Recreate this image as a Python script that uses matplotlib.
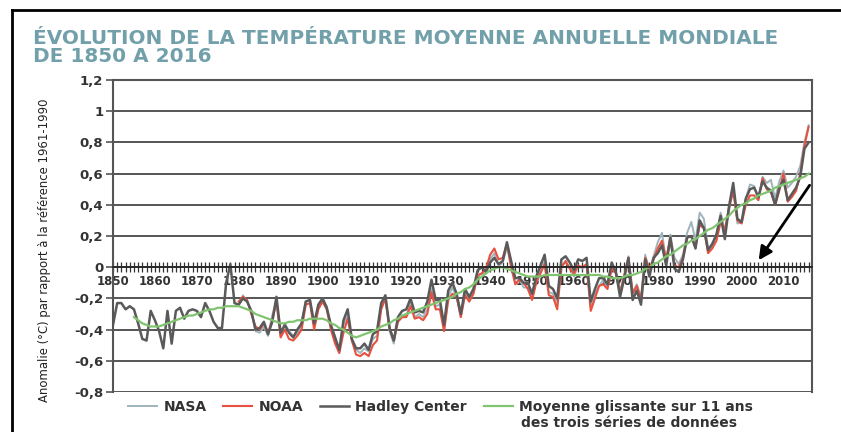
import numpy as np
import matplotlib.pyplot as plt
from matplotlib.lines import Line2D
from matplotlib.ticker import FuncFormatter

# Anomalies annuelles (°C, référence 1961-1990)
annees_hadley = np.arange(1850, 2017)
hadley = [
    -0.37, -0.23, -0.23, -0.27, -0.25, -0.27, -0.36, -0.46, -0.47, -0.28,
    -0.34, -0.41, -0.52, -0.28, -0.49, -0.28, -0.26, -0.33, -0.28, -0.27,
    -0.28, -0.32, -0.23, -0.28, -0.35, -0.39, -0.39, -0.10, 0.02, -0.23,
    -0.24, -0.20, -0.22, -0.28, -0.40, -0.39, -0.35, -0.43, -0.35, -0.19,
    -0.42, -0.37, -0.42, -0.45, -0.40, -0.36, -0.22, -0.21, -0.36, -0.24,
    -0.20, -0.26, -0.37, -0.45, -0.53, -0.34, -0.27, -0.46, -0.52, -0.52,
    -0.49, -0.53, -0.43, -0.41, -0.23, -0.18, -0.39, -0.47, -0.32, -0.28,
    -0.27, -0.20, -0.29, -0.28, -0.29, -0.22, -0.08, -0.21, -0.21, -0.37,
    -0.15, -0.10, -0.17, -0.30, -0.14, -0.19, -0.14, -0.02, 0.00, -0.03,
    0.03, 0.06, 0.02, 0.04, 0.16, 0.04, -0.07, -0.07, -0.10, -0.10,
    -0.17, -0.06, 0.01, 0.08, -0.12, -0.14, -0.20, 0.05, 0.07, 0.03,
    -0.02, 0.05, 0.04, 0.06, -0.22, -0.14, -0.07, -0.07, -0.11, 0.03,
    -0.03, -0.19, -0.07, 0.06, -0.21, -0.15, -0.24, 0.05, -0.06, 0.06,
    0.09, 0.14, 0.01, 0.19, -0.01, -0.03, 0.05, 0.19, 0.20, 0.12,
    0.30, 0.25, 0.11, 0.15, 0.21, 0.33, 0.18, 0.39, 0.54, 0.31,
    0.29, 0.44, 0.50, 0.51, 0.45, 0.55, 0.51, 0.49, 0.40, 0.51,
    0.56, 0.43, 0.47, 0.51, 0.58, 0.76, 0.80,
]

annees_nasa_noaa = np.arange(1880, 2017)
nasa = [
    -0.24, -0.18, -0.22, -0.28, -0.41, -0.42, -0.38, -0.44, -0.31, -0.21,
    -0.44, -0.36, -0.41, -0.44, -0.43, -0.36, -0.22, -0.21, -0.37, -0.26,
    -0.20, -0.25, -0.38, -0.47, -0.55, -0.37, -0.31, -0.47, -0.53, -0.55,
    -0.52, -0.54, -0.46, -0.44, -0.25, -0.21, -0.41, -0.49, -0.34, -0.31,
    -0.31, -0.23, -0.32, -0.30, -0.32, -0.27, -0.14, -0.25, -0.24, -0.40,
    -0.19, -0.13, -0.19, -0.32, -0.16, -0.22, -0.17, -0.06, -0.04, -0.04,
    0.05, 0.09, 0.01, 0.03, 0.13, 0.02, -0.10, -0.08, -0.13, -0.13,
    -0.20, -0.09, -0.02, 0.04, -0.16, -0.17, -0.23, 0.01, 0.03, 0.00,
    -0.06, 0.01, -0.01, 0.01, -0.25, -0.17, -0.12, -0.08, -0.13, 0.00,
    -0.03, -0.15, -0.06, 0.07, -0.16, -0.11, -0.19, 0.08, -0.02, 0.07,
    0.16, 0.22, 0.04, 0.21, 0.06, 0.02, 0.08, 0.22, 0.29, 0.17,
    0.35, 0.31, 0.12, 0.13, 0.21, 0.35, 0.23, 0.36, 0.51, 0.28,
    0.29, 0.44, 0.53, 0.52, 0.43, 0.58, 0.54, 0.56, 0.44, 0.55,
    0.62, 0.51, 0.54, 0.58, 0.65, 0.80, 0.91,
]
noaa = [
    -0.22, -0.19, -0.21, -0.30, -0.38, -0.40, -0.36, -0.42, -0.34, -0.22,
    -0.45, -0.40, -0.46, -0.47, -0.44, -0.40, -0.24, -0.23, -0.40, -0.27,
    -0.22, -0.27, -0.40, -0.49, -0.55, -0.42, -0.33, -0.47, -0.56, -0.57,
    -0.55, -0.57, -0.50, -0.47, -0.27, -0.20, -0.39, -0.47, -0.35, -0.32,
    -0.32, -0.25, -0.33, -0.32, -0.34, -0.30, -0.16, -0.27, -0.27, -0.41,
    -0.21, -0.17, -0.19, -0.32, -0.18, -0.22, -0.17, -0.05, -0.04, -0.01,
    0.08, 0.12, 0.05, 0.06, 0.15, 0.00, -0.11, -0.08, -0.10, -0.14,
    -0.21, -0.10, -0.04, 0.02, -0.18, -0.19, -0.27, 0.00, 0.04, -0.01,
    -0.04, 0.01, 0.00, 0.02, -0.28, -0.20, -0.12, -0.11, -0.14, -0.01,
    -0.04, -0.17, -0.05, 0.06, -0.17, -0.12, -0.21, 0.06, -0.01, 0.05,
    0.12, 0.17, 0.05, 0.19, 0.01, 0.00, 0.06, 0.19, 0.20, 0.13,
    0.27, 0.25, 0.09, 0.12, 0.17, 0.29, 0.24, 0.38, 0.49, 0.30,
    0.28, 0.40, 0.46, 0.46, 0.43, 0.57, 0.50, 0.48, 0.40, 0.49,
    0.60, 0.42, 0.45, 0.49, 0.60, 0.78, 0.90,
]

# moyenne glissante sur 11 ans des trois séries
annees_moyenne = np.arange(1855, 2017)
moyenne = [
    -0.32, -0.34, -0.36, -0.37, -0.38, -0.38, -0.38, -0.37, -0.36, -0.35,
    -0.34, -0.33, -0.32, -0.31, -0.31, -0.30, -0.29, -0.28, -0.27, -0.27,
    -0.26, -0.26, -0.25, -0.25, -0.25, -0.25, -0.26, -0.27, -0.28, -0.30,
    -0.31, -0.32, -0.33, -0.34, -0.35, -0.36, -0.36, -0.35, -0.35, -0.34,
    -0.34, -0.34, -0.33, -0.33, -0.33, -0.33, -0.34, -0.36, -0.37, -0.39,
    -0.40, -0.42, -0.44, -0.45, -0.44, -0.43, -0.42, -0.41, -0.40, -0.38,
    -0.37, -0.36, -0.34, -0.33, -0.31, -0.30, -0.29, -0.28, -0.27, -0.26,
    -0.25, -0.24, -0.23, -0.22, -0.21, -0.20, -0.19, -0.17, -0.16, -0.14,
    -0.13, -0.11, -0.08, -0.06, -0.04, -0.02, -0.01, 0.00, 0.00, -0.01,
    -0.02, -0.03, -0.04, -0.05, -0.06, -0.06, -0.06, -0.06, -0.05, -0.05,
    -0.05, -0.05, -0.05, -0.05, -0.05, -0.05, -0.05, -0.05, -0.05, -0.05,
    -0.05, -0.05, -0.06, -0.06, -0.07, -0.07, -0.07, -0.06, -0.05, -0.05,
    -0.04, -0.03, -0.01, 0.00, 0.02, 0.03, 0.05, 0.07, 0.08, 0.10,
    0.12, 0.14, 0.15, 0.17, 0.18, 0.20, 0.22, 0.24, 0.25, 0.27,
    0.29, 0.31, 0.33, 0.36, 0.38, 0.40, 0.41, 0.43, 0.44, 0.46,
    0.47, 0.48, 0.49, 0.51, 0.52, 0.53, 0.54, 0.55, 0.56, 0.57,
    0.58, 0.60,
]

titre = "ÉVOLUTION DE LA TEMPÉRATURE MOYENNE ANNUELLE MONDIALE\nDE 1850 A 2016"
label_y = "Anomalie (°C) par rapport à la référence 1961-1990"

W, H = 841, 432
fig = plt.figure(figsize=(W / 100, H / 100), dpi=100)
ax = fig.add_axes([113 / W, 1 - 392 / H, (812 - 113) / W, (392 - 80) / H])

ax.plot(annees_nasa_noaa, nasa, color="#9fb4bc", lw=1.4, label="NASA")
ax.plot(annees_nasa_noaa, noaa, color="#e8503f", lw=1.5, label="NOAA")
ax.plot(annees_hadley, hadley, color="#5a5a5a", lw=1.8, label="Hadley Center")
ax.plot(annees_moyenne, moyenne, color="#80c46f", lw=1.6,
        label="Moyenne glissante sur 11 ans")

ax.set_xlim(1850, 2016.8)
ax.set_ylim(-0.8, 1.2)

# axe des années posé sur la ligne du zéro
ax.spines["bottom"].set_position(("data", 0))
ax.spines["bottom"].set_color("#222222")
ax.spines["bottom"].set_linewidth(1.2)
for s in ["left", "right", "top"]:
    ax.spines[s].set_color("#555555")
    ax.spines[s].set_linewidth(1.5)

ax.set_xticks(range(1850, 2011, 10))
ax.set_xticks(range(1850, 2017), minor=True)
ax.tick_params(axis="x", which="both", direction="inout", length=7, width=0.9,
               color="#333333", labelsize=8.5, labelcolor="#333333", pad=2)
for t in ax.get_xticklabels():
    t.set_fontweight("bold")

yt = np.round(np.arange(-0.8, 1.21, 0.2), 1)
ax.set_yticks(yt)
ax.yaxis.set_major_formatter(
    FuncFormatter(lambda v, p: f"{round(v, 1) + 0.0:g}".replace(".", ",")))
ax.tick_params(axis="y", direction="out", length=5, width=1.2, color="#555555",
               labelsize=9.5, labelcolor="#333333", pad=2)
for t in ax.get_yticklabels():
    t.set_fontweight("bold")
ax.grid(axis="y", color="#555555", lw=1.4)
ax.set_axisbelow(True)

# flèche vers la fin de la moyenne glissante
ax.annotate("", xy=(2003.7, 0.03), xytext=(2016.6, 0.54),
            arrowprops=dict(arrowstyle="-|>", color="black", lw=2,
                            mutation_scale=20))

fig.text(33 / W, 1 - 29 / H, titre, ha="left", va="top", fontsize=14.4,
         fontweight="bold", color="#71a0ab", linespacing=0.95)
fig.text(45 / W, 1 - 250 / H, label_y, rotation=90, ha="center", va="center",
         fontsize=8.4, color="#222222")

leg = ax.legend(loc="upper left", bbox_to_anchor=(128 / W, 1 - 400 / H),
                bbox_transform=fig.transFigure, ncol=4, frameon=False,
                handlelength=2.1, handletextpad=0.45, columnspacing=1.2,
                borderaxespad=0, borderpad=0,
                prop=dict(weight="bold", size=10))
for t in leg.get_texts():
    t.set_color("#333333")
fig.text(521 / W, 1 - 423 / H, "des trois séries de données", ha="left",
         va="center", fontsize=10, fontweight="bold", color="#333333")

# cadre noir en haut et à gauche
fig.add_artist(Line2D([12 / W, 1], [1 - 10 / H, 1 - 10 / H], color="black",
                      lw=2, transform=fig.transFigure))
fig.add_artist(Line2D([12 / W, 12 / W], [0, 1 - 10 / H], color="black",
                      lw=2, transform=fig.transFigure))

fig.savefig("out.png", dpi=100)
